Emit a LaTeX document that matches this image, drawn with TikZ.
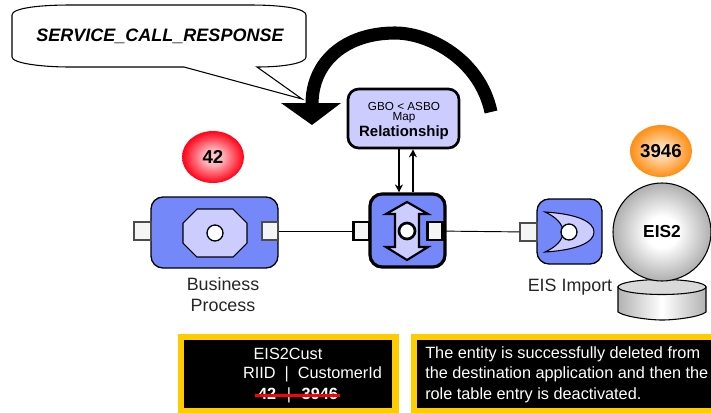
\documentclass[tikz,border=0pt]{standalone}
\usepackage{fontspec}
\setmainfont{Liberation Sans}
\usetikzlibrary{shapes.geometric,calc,arrows.meta}
\definecolor{bluefill}{HTML}{7588FA}
\definecolor{lilac}{HTML}{CCCCFF}
\definecolor{portfill}{HTML}{F5F5F5}
\definecolor{gold}{HTML}{FFCC00}
\definecolor{strikeline}{HTML}{FF0000}
\definecolor{ra}{HTML}{FFC8CC}
\definecolor{rb}{HTML}{FFB0B6}
\definecolor{rc}{HTML}{FF0A1E}
\definecolor{oa}{HTML}{FFE6C8}
\definecolor{ob}{HTML}{FFD2A0}
\definecolor{oc}{HTML}{FF9119}
\definecolor{ga}{HTML}{FFFFFF}
\definecolor{gc}{HTML}{AFAFAF}
\pgfdeclareradialshading{redball}{\pgfpoint{0bp}{0bp}}{color(0bp)=(ra); color(8bp)=(rb); color(24bp)=(rc); color(50bp)=(rc)}
\pgfdeclareradialshading{orangeball}{\pgfpoint{0bp}{0bp}}{color(0bp)=(oa); color(8bp)=(ob); color(24bp)=(oc); color(50bp)=(oc)}
\pgfdeclareradialshading{greyball}{\pgfpoint{0bp}{0bp}}{color(0bp)=(ga); color(8bp)=(ga); color(25bp)=(gc); color(50bp)=(gc)}
\tikzset{
  x=0.75pt,y=-0.75pt,
  sz/.style 2 args={minimum width=#1*0.75pt,minimum height=#2*0.75pt,inner sep=0pt},
  comp/.style={draw=black,fill=bluefill,rounded corners=9pt,line width=1pt},
  compb/.style={comp,line width=2.4pt},
  port/.style={draw=black!70,fill=portfill,line width=.8pt},
  portb/.style={draw=black,fill=portfill,line width=1.9pt},
  hole/.style={circle,draw=black,fill=white,line width=1pt,minimum size=16*0.75pt,inner sep=0pt},
  ball/.style={ellipse,sz={62}{52},font=\fontsize{14}{14}\selectfont\bfseries},
  lbl/.style={font=\fontsize{13.4}{15.8}\selectfont,align=center,inner sep=0pt,text=black!85},
  panel/.style={draw=gold,line width=4.9pt,fill=black,inner sep=0pt},
  wtext/.style={text=white,font=\fontsize{12.2}{15.3}\selectfont,inner sep=0pt},
  link/.style={draw=black,line width=.7pt},
  twoway/.style={draw=black,line width=2pt,-{Stealth[length=6pt,width=6pt]}},
}
\begin{document}
\begin{tikzpicture}
\useasboundingbox (0,0) rectangle (711,412);
% big arrow
\draw[line width=9.8pt,line cap=butt] (491,112) .. controls (480,60) and (430,33) .. (395,33) .. controls (345,33) and (312,62) .. (312,104);
\fill (281,103) -- (341,103) -- (312,125) -- cycle;
% callout
\draw[fill=white,line width=.8pt] (12,15) .. controls (12,8) and (40,5) .. (70,5) -- (250,5) .. controls (285,5) and (306,9) .. (306,15)
  -- (306,57) .. controls (306,63) and (285,67) .. (257,67) -- (302,99) -- (184,67) -- (70,67) .. controls (40,67) and (12,63) .. (12,57) -- cycle;
\node[font=\fontsize{13.5}{14}\selectfont\bfseries\itshape,inner sep=0pt] (call) at (160,36) {SERVICE\_CALL\_RESPONSE};
% Relationship
\node[draw=black,fill=lilac,line width=2pt,rounded corners=8pt,sz={111}{59}] (rel) at (403.5,118.5) {};
\node[font=\fontsize{8.8}{9}\selectfont,inner sep=0pt] (r1) at (404,106) {GBO < ASBO};
\node[font=\fontsize{8.8}{9}\selectfont,inner sep=0pt] (r2) at (404,118) {Map};
\node[font=\fontsize{11.2}{12}\selectfont\bfseries,inner sep=0pt] (r3) at (404,133) {Relationship};
% Business process
\node[comp,sz={127}{71}] (bp) at (214.5,232.5) {};
\node[port,sz={17}{18}] (bpl) at (142.5,231) {};
\node[port,sz={16}{18}] (bpr) at (270,231) {};
\draw[fill=lilac,draw=black,line width=.8pt] (197,209) -- (233,209) -- (247,223) -- (247,243) -- (233,257) -- (197,257) -- (183,243) -- (183,223) -- cycle;
\node[hole] (bph) at (215,233) {};
\node[ball,shading=redball] (b42) at (213,157) {42};
\node[lbl] (bpt) at (223,294.5) {Business\\Process};
% mediator
\node[compb,sz={75}{73}] (mid) at (407.5,230.5) {};
\node[portb,sz={16}{18}] (midl) at (361.5,231) {};
\node[portb,sz={15}{18}] (midr) at (435,231) {};
\draw[fill=lilac,draw=black,line width=1.6pt] (407,202) -- (428,214) -- (419,214) -- (419,247) -- (428,247) -- (407,260) -- (386,247) -- (395,247) -- (395,214) -- (386,214) -- cycle;
\node[hole,line width=2pt] (midh) at (407,231) {};
% EIS import
\node[comp,sz={65}{65}] (imp) at (569.5,231.5) {};
\node[port,sz={17}{18}] (impl) at (528.5,232) {};
\draw[fill=lilac,draw=black,line width=.8pt] (545,212) .. controls (578,214) and (594,222) .. (594,232) .. controls (594,242) and (578,250) .. (545,252) .. controls (556,247) and (563,240) .. (563,232) .. controls (563,224) and (556,217) .. (545,212) -- cycle;
\node[hole] (imph) at (569,232) {};
\node[lbl] (impt) at (570,287) {EIS Import};
% connectors
\draw[link] (bpr) -- (midl);
\draw[link] (midr) -- (impl);
\draw[twoway] ([xshift=-3.4pt]rel.south) -- ([xshift=-6.4pt]mid.north);
\draw[twoway] ([xshift=4.1pt]mid.north) -- ([xshift=7.1pt]rel.south);
% EIS2
\draw[draw=black,line width=.8pt,shade,left color=black!30,right color=black!30,middle color=white] (618,287) -- (618,312) .. controls (625,317) and (650,320) .. (662,320) .. controls (675,320) and (700,317) .. (706,312) -- (706,287) -- cycle;
\node[ellipse,draw=black,fill=black!15,line width=.8pt,minimum width=88*0.75pt,minimum height=15*0.75pt,inner sep=0pt] (cyl) at (662,287) {};
\node[circle,draw=black,line width=.8pt,minimum size=98*0.75pt,inner sep=0pt,shading=greyball,font=\fontsize{13}{13}\selectfont\bfseries] (eis) at (662,232) {EIS2};
\node[ball,shading=orangeball] (b3946) at (661,151) {3946};
% panels
\node[panel,sz={214.5}{74}] (p1) at (288.25,374) {};
\node[wtext] (t1) at (288,354) {EIS2Cust};
\node[wtext] (t2) at (312.5,374.5) {RIID~~|~~CustomerId};
\node[wtext,font=\fontsize{12.2}{15}\selectfont\bfseries] (t3) at (298,395.5) {42\hspace{8pt}{\mdseries|}\hspace{8pt}3946};
\draw[strikeline,line width=1.6pt] ([xshift=-2pt]t3.west) -- ([xshift=1.5pt]t3.east);
\node[panel,sz={300}{74}] (p2) at (564,374) {};
\node[wtext,align=left,anchor=west] (t4) at (425,374.5) {The entity is successfully deleted from\\the destination application and then the\\role table entry is deactivated.};
\end{tikzpicture}
\end{document}
